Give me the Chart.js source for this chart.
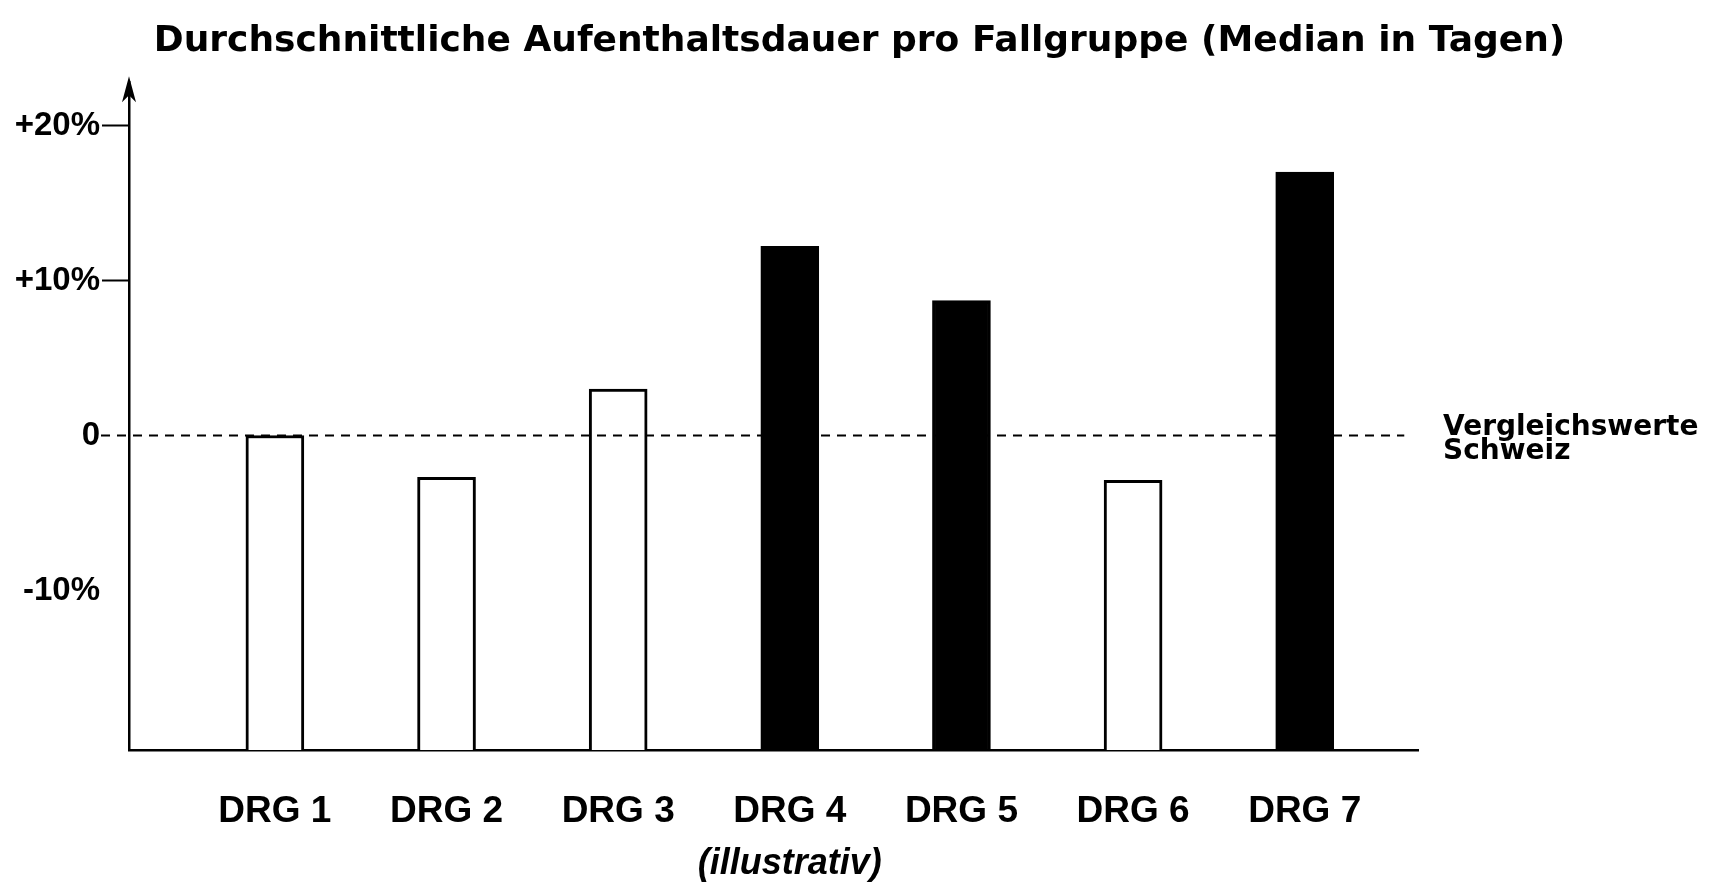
<!DOCTYPE html>
<html lang="de">
<head>
<meta charset="utf-8">
<title>Durchschnittliche Aufenthaltsdauer pro Fallgruppe</title>
<script src="https://cdn.jsdelivr.net/npm/chart.js@4.4.1/dist/chart.umd.min.js"></script>
<style>
  html, body { margin: 0; padding: 0; background: #fff; }
  .chart-box { width: 1719px; height: 882px; position: relative; }
</style>
</head>
<body>
<div class="chart-box"><canvas id="stayChart"></canvas></div>
<script>
const categories = ['DRG 1', 'DRG 2', 'DRG 3', 'DRG 4', 'DRG 5', 'DRG 6', 'DRG 7'];
// Abweichung vom Schweizer Vergleichswert in %
const deviation = [0, -2.7, 3.0, 12.2, 8.7, -2.9, 17.0];
// Fallgruppen deutlich ueber dem Vergleichswert (schwarz gefuellt)
const aboveBenchmark = [false, false, false, true, true, false, true];
const yTickValues = [20, 10, 0, -10];
const yTickLabels = ['+20%', '+10%', '0', '-10%'];
const benchmarkValue = 0;
const benchmarkLabel = ['Vergleichswerte', 'Schweiz'];
const noteLabel = '(illustrativ)';
const titleText = 'Durchschnittliche Aufenthaltsdauer pro Fallgruppe (Median in Tagen)';

const yMin = -20.3, yMax = 22.8;
const xMin = 0.15, xMax = 7.66;

Chart.defaults.font.family = '"Liberation Sans", Arial, sans-serif';
Chart.defaults.color = '#000';

// Pfeil, Vergleichslinie und Zusatztexte
const decorations = {
    id: 'decorations',
    afterDraw(chart) {
        const ctx = chart.ctx;
        const area = chart.chartArea;
        const x = chart.scales.x;
        const y = chart.scales.y;

        ctx.save();
        ctx.fillStyle = '#000';
        ctx.strokeStyle = '#000';

        // Pfeilspitze der y-Achse
        const ax = area.left;
        const top = area.top;
        ctx.beginPath();
        ctx.moveTo(ax, top - 6);
        ctx.lineTo(ax - 7, top + 20);
        ctx.lineTo(ax, top + 13);
        ctx.lineTo(ax + 7, top + 20);
        ctx.closePath();
        ctx.fill();

        // gestrichelte Linie: Vergleichswerte Schweiz
        const y0 = y.getPixelForValue(benchmarkValue);
        ctx.lineWidth = 2;
        ctx.setLineDash([9, 7]);
        ctx.beginPath();
        ctx.moveTo(ax - 28, y0);
        ctx.lineTo(x.getPixelForValue(7.58), y0);
        ctx.stroke();
        ctx.setLineDash([]);

        ctx.font = 'bold 28px "DejaVu Sans"';
        ctx.textAlign = 'left';
        ctx.textBaseline = 'middle';
        ctx.fillText(benchmarkLabel[0], area.right + 25, y0 - 8);
        ctx.fillText(benchmarkLabel[1], area.right + 25, y0 + 16);

        ctx.font = 'italic bold 36px "Liberation Sans"';
        ctx.textAlign = 'center';
        ctx.fillText(noteLabel, x.getPixelForValue(4), chart.height - 18);
        ctx.restore();
    }
};

const ctx = document.getElementById('stayChart').getContext('2d');

new Chart(ctx, {
    type: 'bar',
    data: {
        datasets: [{
            data: deviation.map((v, i) => ({ x: i + 1, y: v })),
            base: yMin,
            backgroundColor: aboveBenchmark.map(f => f ? '#000' : '#fff'),
            borderColor: '#000',
            borderWidth: 3,
            borderSkipped: 'start',
            barThickness: 58
        }]
    },
    options: {
        responsive: true,
        maintainAspectRatio: false,
        animation: false,
        layout: {
            padding: 0
        },
        plugins: {
            legend: { display: false },
            tooltip: { enabled: false },
            title: {
                display: true,
                text: titleText,
                font: { family: '"DejaVu Sans"', size: 36, weight: 'bold', lineHeight: 1.2 },
                color: '#000',
                padding: { top: 20, bottom: 19 }
            }
        },
        scales: {
            x: {
                type: 'linear',
                offset: false,
                min: xMin,
                max: xMax,
                grid: { display: false },
                border: { display: true, color: '#000', width: 2.5 },
                afterBuildTicks: function(scale) {
                    scale.ticks = categories.map((c, i) => ({ value: i + 1 }));
                },
                afterFit: function(scale) {
                    scale.height = 132;
                },
                ticks: {
                    autoSkip: false,
                    maxRotation: 0,
                    padding: 35,
                    font: { size: 37, weight: 'bold', lineHeight: 1 },
                    callback: function(value) {
                        return categories[value - 1];
                    }
                }
            },
            y: {
                min: yMin,
                max: yMax,
                grid: {
                    display: true,
                    drawOnChartArea: false,
                    drawTicks: true,
                    tickLength: 27,
                    tickWidth: 2,
                    tickColor: function(c) {
                        return c.tick && c.tick.value > 0 ? '#000' : 'rgba(0,0,0,0)';
                    }
                },
                border: { display: true, color: '#000', width: 2.5 },
                afterBuildTicks: function(scale) {
                    scale.ticks = yTickValues.map(v => ({ value: v }));
                },
                afterFit: function(scale) {
                    scale.width = 129;
                },
                ticks: {
                    padding: 2,
                    font: { size: 33, weight: 'bold', lineHeight: 1 },
                    callback: function(value) {
                        return yTickLabels[yTickValues.indexOf(value)];
                    }
                }
            },
            // leerer Rand rechts fuer die Beschriftung der Vergleichslinie
            yRight: {
                position: 'right',
                display: true,
                grid: { display: false },
                border: { display: false },
                ticks: { display: false },
                afterFit: function(scale) {
                    scale.width = 301;
                }
            }
        }
    },
    plugins: [decorations]
});
</script>
</body>
</html>
